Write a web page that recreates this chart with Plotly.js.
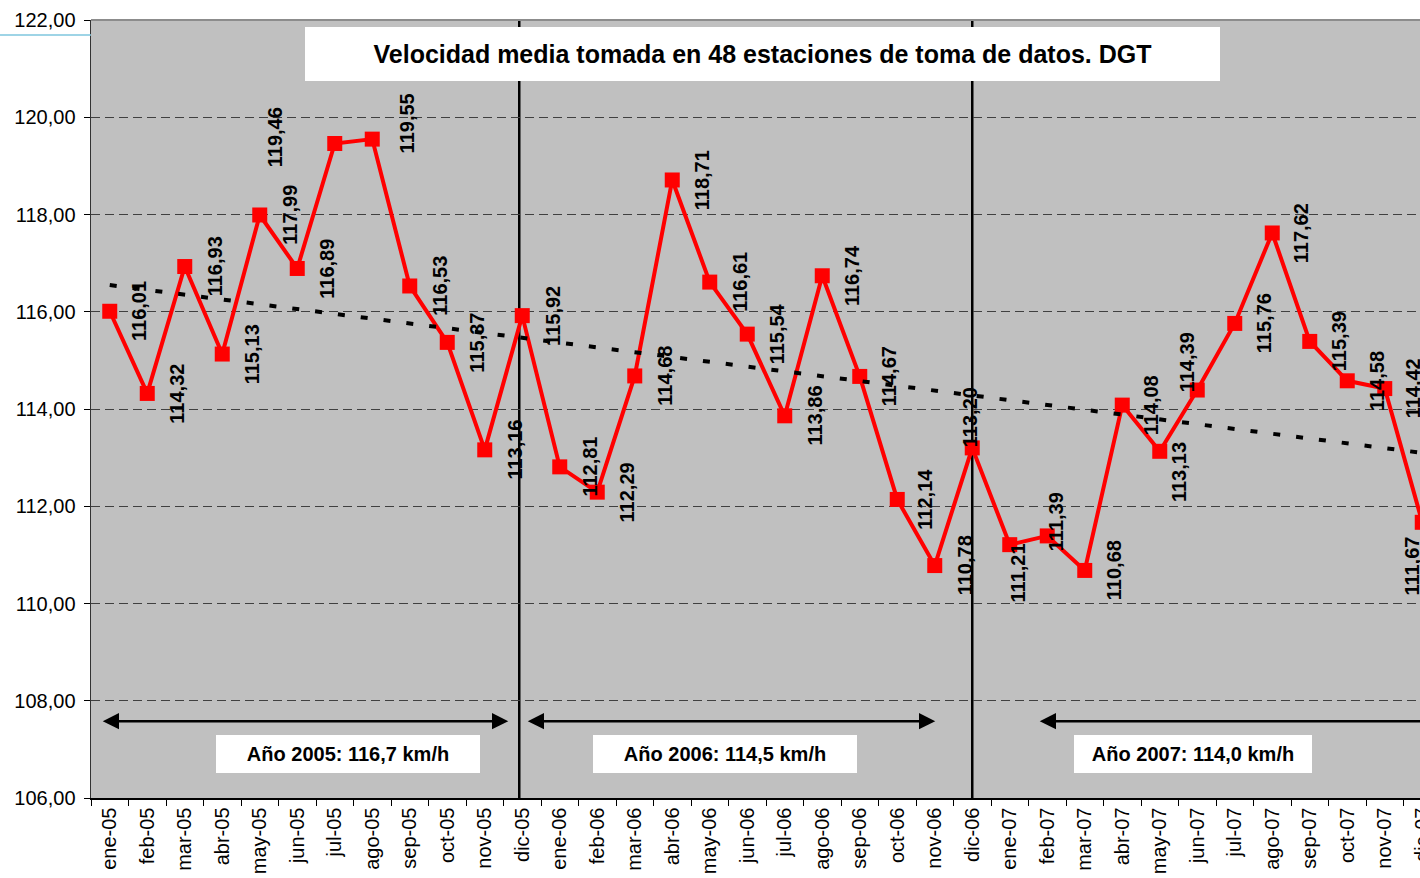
<!DOCTYPE html>
<html>
<head>
<meta charset="utf-8">
<script src="https://cdn.plot.ly/plotly-3.0.1.min.js"></script>
<style>
html, body { margin: 0; padding: 0; overflow: hidden; background: #ffffff; }
</style>
</head>
<body>
<div id="chart" style="width:1450px;height:878px;"></div>
<script>
// ---- data ----
const months = [
  "ene-05","feb-05","mar-05","abr-05","may-05","jun-05","jul-05","ago-05","sep-05","oct-05","nov-05","dic-05",
  "ene-06","feb-06","mar-06","abr-06","may-06","jun-06","jul-06","ago-06","sep-06","oct-06","nov-06","dic-06",
  "ene-07","feb-07","mar-07","abr-07","may-07","jun-07","jul-07","ago-07","sep-07","oct-07","nov-07","dic-07"
];
const speeds = [
  116.01, 114.32, 116.93, 115.13, 117.99, 116.89, 119.46, 119.55, 116.53, 115.37, 113.16, 115.92,
  112.81, 112.29, 114.68, 118.71, 116.61, 115.54, 113.86, 116.74, 114.67, 112.14, 110.78, 113.20,
  111.21, 111.39, 110.68, 114.08, 113.13, 114.39, 115.76, 117.62, 115.39, 114.58, 114.42, 111.67
];
const periodLabels = ["Año 2005: 116,7 km/h", "Año 2006: 114,5 km/h", "Año 2007: 114,0 km/h"];
const chartTitle = "Velocidad media tomada en 48 estaciones de toma de datos. DGT";
const yTicks = [106, 108, 110, 112, 114, 116, 118, 120, 122];

// ---- label placement (screen px offsets: right, down) ----
const labelOffsets = [
  [30,0],[30,0],[30,0],[30,0],[30,0],[30,0],[-60,-6],[35,-16],[30,0],[30,0],[30,0],[30,0],
  [30,0],[30,0],[30,0],[30,0],[30,0],[30,0],[30,0],[30,0],[30,0],[28,0],[30,0],[-2,-31],
  [8,28],[9,-14],[30,0],[29,0],[20,21],[-10,-28],[30,0],[29,0],[30,0],[30,0],[28,0],[-10,44]
];

// ---- linear trend (least squares) ----
const n = speeds.length;
const idx = speeds.map((_, i) => i);
const mx = idx.reduce((a, b) => a + b, 0) / n;
const my = speeds.reduce((a, b) => a + b, 0) / n;
let sxy = 0, sxx = 0;
for (let i = 0; i < n; i++) { sxy += (i - mx) * (speeds[i] - my); sxx += (i - mx) * (i - mx); }
const slope = sxy / sxx;
const intercept = my - slope * mx;
const trend = idx.map(i => intercept + slope * i);

const fmt = v => v.toFixed(2).replace('.', ',');
const FONT = 'Arial, "Liberation Sans", sans-serif';

const traces = [
  {
    x: months, y: speeds, type: 'scatter', mode: 'lines+markers',
    line: { color: '#ff0000', width: 4 },
    marker: { symbol: 'square', size: 15, color: '#ff0000' },
    hoverinfo: 'skip'
  },
  {
    x: months, y: trend, type: 'scatter', mode: 'lines',
    line: { color: '#000000', width: 4, dash: '7px,16px' },
    hoverinfo: 'skip'
  }
];

const annotations = speeds.map((v, i) => ({
  x: months[i], y: v, xref: 'x', yref: 'y',
  text: fmt(v), textangle: -90, showarrow: false,
  xshift: labelOffsets[i][0], yshift: -labelOffsets[i][1],
  font: { family: FONT, size: 20, color: '#000000', weight: 'bold' }
}));

// period arrows
const arrowY = 107.58;
const arrowSpans = [[-0.187, 10.667, true], [11.147, 22.053, true], [24.8, 35.6, false]];
arrowSpans.forEach(s => {
  annotations.push({
    x: s[0], y: arrowY, ax: s[1], ay: arrowY, xref: 'x', yref: 'y', axref: 'x', ayref: 'y',
    text: '', showarrow: true, arrowhead: 2, arrowsize: 1.3, arrowwidth: 2.5, arrowcolor: '#000000',
    arrowside: s[2] ? 'end+start' : 'end', startarrowhead: 2, startarrowsize: 1.3, standoff: 0, startstandoff: 0
  });
});

// period boxes
const boxCenters = [6.347, 16.4, 28.88];
const boxWidths = [264, 264, 238];
periodLabels.forEach((t, i) => {
  annotations.push({
    x: boxCenters[i], y: 106.905, xref: 'x', yref: 'y', text: t, showarrow: false,
    bgcolor: '#ffffff', borderpad: 0, borderwidth: 0, width: boxWidths[i], height: 38,
    font: { family: FONT, size: 20, color: '#000000', weight: 'bold' }
  });
});

// title box
annotations.push({
  x: 0.4974, y: 0.9563, xref: 'paper', yref: 'paper', xanchor: 'center', yanchor: 'middle',
  text: chartTitle, showarrow: false, bgcolor: '#ffffff', borderpad: 0, borderwidth: 0,
  width: 915, height: 54,
  font: { family: FONT, size: 25, color: '#000000', weight: 'bold' }
});

const shapes = [
  { type: 'line', xref: 'x', yref: 'paper', x0: 10.92, x1: 10.92, y0: 0, y1: 1, line: { color: '#000000', width: 2.5 }, layer: 'below' },
  { type: 'line', xref: 'x', yref: 'paper', x0: 23, x1: 23, y0: 0, y1: 1, line: { color: '#000000', width: 2.5 }, layer: 'below' },
  { type: 'line', xref: 'paper', yref: 'paper', x0: 0, x1: 1, y0: 1, y1: 1, line: { color: '#8c8c8c', width: 2 }, layer: 'above' },
  { type: 'line', xref: 'paper', yref: 'paper', x0: -0.0674, x1: 0, y0: 0.9807, y1: 0.9807, line: { color: '#7ec6de', width: 1.5 } }
];

const layout = {
  width: 1450, height: 878,
  margin: { l: 91, r: 9, t: 20, b: 80 },
  paper_bgcolor: '#ffffff', plot_bgcolor: '#c0c0c0',
  separators: ',.',
  showlegend: false,
  font: { family: FONT, color: '#000000' },
  xaxis: {
    type: 'category', categoryorder: 'array', categoryarray: months,
    range: [-0.5, 35.5], tickangle: -90,
    tickfont: { family: FONT, size: 20, color: '#000000' },
    ticks: 'outside', ticklen: 6, tickcolor: '#000000', tickson: 'boundaries',
    showline: true, linecolor: '#000000', linewidth: 1.5,
    showgrid: false, zeroline: false, fixedrange: true
  },
  yaxis: {
    range: [106, 122], tickvals: yTicks, tickformat: '.2f',
    tickfont: { family: FONT, size: 20, color: '#000000' },
    ticks: 'outside', ticklen: 6, tickcolor: '#000000', ticklabelstandoff: 4,
    showline: true, linecolor: '#333333', linewidth: 1.5,
    showgrid: true, gridcolor: '#404040', gridwidth: 1, griddash: '9px,5px',
    zeroline: false, fixedrange: true
  },
  annotations: annotations,
  shapes: shapes
};

Plotly.newPlot('chart', traces, layout, { displayModeBar: false, staticPlot: true });
</script>
</body>
</html>
